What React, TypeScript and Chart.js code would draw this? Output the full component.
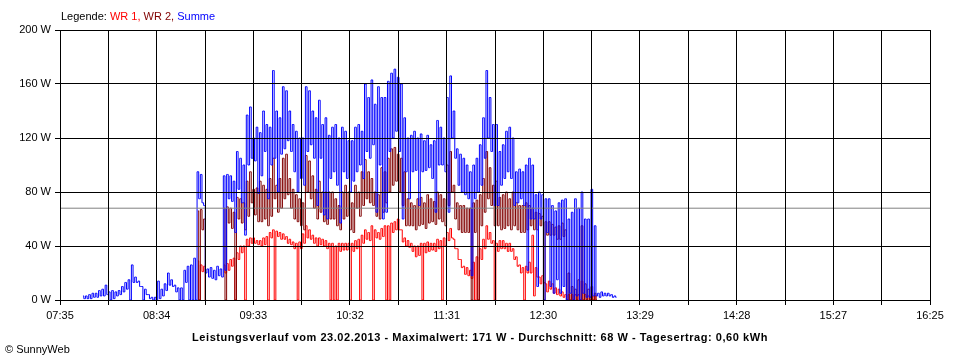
import React, { useEffect, useRef } from 'react';
import { Chart, registerables } from 'chart.js';

Chart.register(...registerables);

const FONT = '"Liberation Sans", Arial, sans-serif';

// time axis (minutes after midnight)
const X_LABELS = ['07:35', '08:34', '09:33', '10:32', '11:31', '12:30', '13:29', '14:28', '15:27', '16:25'];
const X_MIN = 455; // 07:35
const X_MAX = 985; // 16:25
const GRID_STEPS = 18;
const Y_TICKS = [0, 40, 80, 120, 160, 200];

// samples: one every 2 minutes starting 07:49, high / low reading in each 2-minute slot
const START_MIN = 469;
const STEP_MIN = 2;
const AVERAGE_W = 68;

const SUMME_HI = [
  3, 3, 4, 5, 5, 7, 8, 11, 6, 7,
  6, 7, 10, 13, 15, 26, 17, 14, 10, 8,
  4, 2, 2, 14, 8, 12, 20, 15, 11, 9,
  9, 22, 25, 26, 31, 95, 93, 70, 23, 24,
  22, 25, 23, 92, 93, 92, 88, 110, 105, 100,
  137, 143, 120, 128, 124, 140, 130, 128, 170, 140,
  135, 158, 155, 140, 130, 125, 120, 120, 158, 155,
  140, 135, 148, 130, 135, 122, 128, 130, 120, 128,
  125, 118, 118, 128, 130, 125, 160, 150, 163, 145,
  158, 150, 150, 162, 168, 171, 165, 160, 135, 120,
  122, 125, 120, 123, 118, 122, 115, 118, 133, 128,
  120, 150, 166, 140, 112, 108, 105, 100, 95, 100,
  105, 115, 135, 170, 150, 130, 130, 110, 115, 125,
  128, 120, 95, 97, 95, 100, 105, 100, 78, 80,
  78, 75, 75, 70, 66, 72, 74, 75, 60, 65,
  75, 68, 80, 60, 60, 82, 55, 5, 6, 5,
  5, 4, 3,
];
const SUMME_LO = [
  1, 1, 1, 2, 2, 3, 3, 4, 0, 1,
  3, 4, 6, 8, 0, 13, 13, 10, 0, 4,
  1, 0, 0, 1, 3, 7, 11, 10, 6, 0,
  0, 13, 0, 0, 0, 75, 72, 20, 17, 16,
  15, 18, 17, 22, 75, 73, 50, 82, 72, 48,
  100, 105, 103, 79, 92, 110, 75, 100, 105, 80,
  108, 112, 118, 110, 95, 80, 90, 85, 110, 115,
  105, 70, 105, 63, 60, 90, 95, 85, 57, 95,
  90, 80, 88, 95, 100, 90, 110, 105, 115, 65,
  100, 60, 65, 110, 120, 125, 110, 60, 95, 75,
  95, 96, 70, 95, 96, 98, 90, 65, 100, 100,
  95, 65, 120, 105, 85, 80, 78, 75, 18, 75,
  80, 85, 105, 120, 110, 70, 70, 85, 90, 95,
  90, 70, 72, 75, 70, 22, 60, 60, 10, 60,
  0, 50, 10, 5, 15, 5, 10, 0, 5, 0,
  3, 0, 5, 2, 2, 3, 3, 2, 3, 3,
  3, 2, 2,
];

const WR2_HI = [
  null, null, null, null, null, null, null, null, null, null,
  null, null, null, null, null, null, null, null, null, null,
  null, null, null, null, null, null, null, null, null, null,
  null, null, null, null, null, 66, 67, 60, null, null,
  null, null, null, 68, 69, 68, 65, 76, 75, 72,
  88, 95, 82, 83, 88, 85, 82, 90, 105, 85,
  90, 105, 108, 90, 82, 78, 75, 72, 107, 103,
  92, 82, 88, 80, 80, 80, 80, 75, 70, 80,
  85, 80, 72, 85, 80, 95, 104, 95, 90, 80,
  78, 98, 95, 105, 112, 113, 108, 105, 95, 75,
  72, 70, 75, 76, 72, 78, 75, 73, 80, 78,
  75, 100, 110, 85, 72, 70, 70, 68, 68, 72,
  74, 78, 90, 110, 98, 85, 88, 76, 78, 80,
  75, 80, 72, 70, 70, 72, 70, 68, 65, 64,
  62, 58, 58, 56, 54, 55, 57, 52, 20, 10,
  8, 15, 55, 12, 8, 10, 5, null, null, null,
  null, null, null,
];
const WR2_LO = [
  null, null, null, null, null, null, null, null, null, null,
  null, null, null, null, null, null, null, null, null, null,
  null, null, null, null, null, null, null, null, null, null,
  null, null, null, null, null, 0, 52, 0, null, null,
  null, null, null, 0, 57, 53, 0, 60, 57, 52,
  62, 72, 63, 58, 58, 60, 55, 62, 75, 65,
  68, 75, 78, 68, 60, 58, 55, 52, 80, 75,
  68, 60, 65, 58, 56, 60, 60, 55, 52, 60,
  62, 52, 50, 68, 62, 70, 75, 72, 70, 62,
  60, 65, 72, 80, 85, 88, 80, 70, 55, 55,
  55, 52, 55, 56, 53, 57, 58, 56, 60, 58,
  55, 70, 80, 60, 52, 50, 50, 50, 0, 50,
  0, 55, 65, 75, 70, 55, 55, 52, 53, 55,
  52, 55, 52, 50, 50, 52, 55, 52, 52, 55,
  0, 48, 48, 48, 45, 45, 47, 0, 0, 0,
  0, 0, 0, 0, 0, 0, 0, null, null, null,
  null, null, null,
];

const WR1_HI = [
  null, null, null, null, null, null, null, null, null, null,
  null, null, null, null, null, null, null, null, null, null,
  null, null, null, null, null, null, null, null, null, null,
  null, null, null, null, null, 29, 26, 25, null, null,
  null, null, null, 26, 27, 30, 31, 35, 40, 40,
  45, 46, 46, 44, 44, 46, 47, 50, 52, 51,
  50, 49, 47, 45, 43, 42, 43, 49, 55, 52,
  48, 46, 46, 45, 44, 42, 42, 40, 42, 42,
  42, 42, 42, 44, 45, 48, 52, 50, 55, 52,
  50, 53, 55, 55, 57, 58, 60, 52, 46, 44,
  42, 40, 40, 42, 42, 43, 42, 42, 45, 44,
  46, 50, 53, 45, 38, 30, 25, 24, 22, 28,
  32, 38, 45, 55, 50, 44, 42, 44, 44, 42,
  42, 38, 32, 26, 24, 25, 28, 48, 24, 17,
  18, 12, 14, 12, 9, 8, 6, 4, 4, 4,
  4, 4, 14, 4, 3, 3, 3, null, null, null,
  null, null, null,
];
const WR1_LO = [
  null, null, null, null, null, null, null, null, null, null,
  null, null, null, null, null, null, null, null, null, null,
  null, null, null, null, null, null, null, null, null, null,
  null, null, null, null, null, 0, 21, 0, null, null,
  null, null, null, 20, 22, 25, 0, 30, 35, 0,
  40, 42, 42, 41, 40, 41, 0, 46, 0, 47,
  45, 45, 42, 41, 38, 0, 38, 42, 46, 45,
  42, 40, 41, 40, 38, 0, 0, 0, 36, 37,
  37, 0, 36, 38, 0, 42, 45, 44, 0, 46,
  45, 47, 0, 0, 50, 52, 52, 43, 40, 39,
  36, 32, 33, 0, 35, 36, 37, 36, 38, 0,
  40, 44, 46, 38, 30, 24, 19, 18, 16, 0,
  0, 30, 38, 45, 42, 0, 36, 38, 38, 36,
  36, 30, 25, 20, 0, 20, 20, 3, 17, 12,
  13, 6, 8, 5, 4, 3, 2, 0, 0, 0,
  0, 0, 0, 0, 0, 0, 0, null, null, null,
  null, null, null,
];

type Pt = { x: number; y: number | null };

function zigzag(hi: (number | null)[], lo: (number | null)[]): Pt[] {
  const pts: Pt[] = [];
  hi.forEach((h, i) => {
    const t = START_MIN + STEP_MIN * i;
    if (h === null || lo[i] === null) {
      pts.push({ x: t, y: null });
      return;
    }
    pts.push({ x: t, y: h });
    pts.push({ x: t + STEP_MIN / 2, y: lo[i] as number });
  });
  return pts;
}

export default function App() {
  const ref = useRef<HTMLCanvasElement>(null);

  useEffect(() => {
    if (!ref.current) return;
    const lineDs = (label: string, data: Pt[], color: string, stepped: any) => ({
      label,
      data,
      borderColor: color,
      backgroundColor: color,
      borderWidth: 1,
      pointRadius: 0,
      tension: 0,
      fill: false,
      spanGaps: false,
      stepped,
    });
    const chart = new Chart(ref.current, {
      type: 'line',
      data: {
        datasets: [
          lineDs('Durchschnitt', [{ x: X_MIN, y: AVERAGE_W }, { x: X_MAX, y: AVERAGE_W }], '#808080', false),
          lineDs('Summe', zigzag(SUMME_HI, SUMME_LO), '#0000ff', 'middle'),
          lineDs('WR 2', zigzag(WR2_HI, WR2_LO), '#800000', 'middle'),
          lineDs('WR 1', zigzag(WR1_HI, WR1_LO), '#ff0000', 'middle'),
        ] as any,
      },
      options: {
        animation: false,
        responsive: false,
        maintainAspectRatio: false,
        layout: { padding: { top: 30, right: 30, left: 0, bottom: 0 } },
        plugins: { legend: { display: false }, tooltip: { enabled: false } },
        scales: {
          x: {
            type: 'linear',
            min: X_MIN,
            max: X_MAX,
            afterFit: (s: any) => { s.height = 60; },
            afterBuildTicks: (s: any) => {
              s.ticks = Array.from({ length: GRID_STEPS + 1 }, (_, k) => ({
                value: X_MIN + (k * (X_MAX - X_MIN)) / GRID_STEPS,
              }));
            },
            ticks: {
              autoSkip: false,
              maxRotation: 0,
              minRotation: 0,
              padding: 4,
              color: '#000',
              font: { family: FONT, size: 11 },
              callback: (_v: any, i: number) => (i % 2 === 0 ? X_LABELS[i / 2] : ''),
            },
            grid: { color: '#000', lineWidth: 1, tickLength: 5, drawTicks: true, z: 1 },
            border: { color: '#000', z: 1 },
          },
          y: {
            min: 0,
            max: 200,
            afterFit: (s: any) => { s.width = 60; },
            afterBuildTicks: (s: any) => { s.ticks = Y_TICKS.map((v) => ({ value: v })); },
            ticks: {
              padding: 4,
              color: '#000',
              font: { family: FONT, size: 11 },
              callback: (v: any) => `${v} W`,
            },
            grid: { color: '#000', lineWidth: 1, tickLength: 5, drawTicks: true, z: 1 },
            border: { color: '#000', z: 1 },
          },
        },
      } as any,
    });
    return () => chart.destroy();
  }, []);

  return (
    <div style={{ position: 'absolute', left: 0, top: 0, width: 960, height: 360, background: '#fff', fontFamily: FONT, fontSize: 11, color: '#000' }}>
      <canvas ref={ref} width={960} height={360} style={{ position: 'absolute', left: 0, top: 0, width: 960, height: 360 }} />
      <div style={{ position: 'absolute', left: 61, top: 10, whiteSpace: 'pre', lineHeight: '13px' }}>
        <span>Legende: </span>
        <span style={{ color: '#ff0000' }}>WR 1, </span>
        <span style={{ color: '#800000' }}>WR 2, </span>
        <span style={{ color: '#0000ff' }}>Summe</span>
      </div>
      <div style={{ position: 'absolute', left: 0, top: 331, width: 960, textAlign: 'center', fontWeight: 'bold', whiteSpace: 'pre', lineHeight: '13px', letterSpacing: '0.55px' }}>
        Leistungsverlauf vom 23.02.2013 - Maximalwert: 171 W - Durchschnitt: 68 W - Tagesertrag: 0,60 kWh
      </div>
      <div style={{ position: 'absolute', left: 5, top: 343, whiteSpace: 'pre', lineHeight: '13px' }}>© SunnyWeb</div>
    </div>
  );
}
